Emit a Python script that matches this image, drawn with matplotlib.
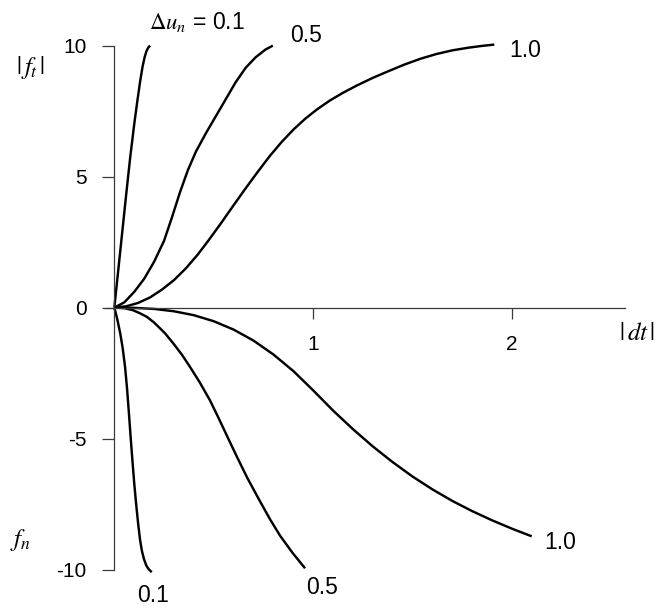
import matplotlib
matplotlib.use("Agg")
import matplotlib.pyplot as plt

plt.rcParams['font.family'] = ['Liberation Sans', 'DejaVu Sans']
plt.rcParams['mathtext.fontset'] = 'stix'

# upper half: |f_t| against |dt|, one curve per du_n
ft_01_x = [0, 0.02, 0.04, 0.06, 0.08, 0.10, 0.115, 0.13, 0.142, 0.152, 0.162, 0.171, 0.18]
ft_01_y = [0, 1.45, 2.9, 4.35, 5.75, 7.0, 7.85, 8.65, 9.2, 9.55, 9.8, 9.93, 10.0]

ft_05_x = [0, 0.05, 0.1, 0.15, 0.2, 0.25, 0.29, 0.33, 0.37, 0.41, 0.46, 0.51, 0.56,
           0.61, 0.66, 0.71, 0.76, 0.797]
ft_05_y = [0, 0.2, 0.6, 1.1, 1.75, 2.55, 3.45, 4.4, 5.25, 5.95, 6.65, 7.3, 7.95,
           8.6, 9.15, 9.55, 9.85, 10.0]

ft_10_x = [0, 0.06, 0.12, 0.18, 0.24, 0.3, 0.36, 0.42, 0.48, 0.54, 0.6, 0.66, 0.72,
           0.78, 0.84, 0.9, 0.96, 1.02, 1.085, 1.15, 1.22, 1.3, 1.38, 1.46, 1.54,
           1.62, 1.7, 1.78, 1.85, 1.911]
ft_10_y = [0, 0.05, 0.18, 0.39, 0.69, 1.05, 1.5, 2.03, 2.63, 3.26, 3.91, 4.55, 5.17,
           5.77, 6.31, 6.79, 7.21, 7.57, 7.91, 8.2, 8.48, 8.77, 9.03, 9.28, 9.5,
           9.68, 9.82, 9.92, 9.99, 10.04]

# lower half: f_n against |dt|
fn_01_x = [0, 0.015, 0.03, 0.042, 0.054, 0.064, 0.073, 0.082, 0.091, 0.1, 0.109,
           0.119, 0.129, 0.139, 0.149, 0.16, 0.172, 0.188]
fn_01_y = [0, -0.45, -1.0, -1.55, -2.27, -3.1, -4.0, -4.95, -5.85, -6.7, -7.45,
           -8.2, -8.85, -9.3, -9.6, -9.83, -9.98, -10.1]

fn_05_x = [0, 0.05, 0.094, 0.13, 0.163, 0.2, 0.255, 0.3, 0.34, 0.381, 0.43, 0.481,
           0.527, 0.573, 0.62, 0.67, 0.733, 0.783, 0.833, 0.895, 0.959]
fn_05_y = [0, -0.02, -0.1, -0.22, -0.35, -0.57, -0.98, -1.4, -1.8, -2.27, -2.86, -3.54,
           -4.26, -5.0, -5.75, -6.52, -7.4, -8.08, -8.7, -9.35, -9.95]

fn_10_x = [0, 0.1, 0.2, 0.3, 0.4, 0.5, 0.6, 0.7, 0.8, 0.9, 1.0, 1.1, 1.2, 1.3, 1.4,
           1.5, 1.6, 1.7, 1.8, 1.9, 2.0, 2.099]
fn_10_y = [0, -0.01, -0.05, -0.14, -0.29, -0.52, -0.84, -1.26, -1.79, -2.42, -3.16,
           -3.93, -4.64, -5.3, -5.9, -6.45, -6.94, -7.38, -7.77, -8.12, -8.44, -8.73]

curves = [(ft_01_x, ft_01_y), (ft_05_x, ft_05_y), (ft_10_x, ft_10_y),
          (fn_01_x, fn_01_y), (fn_05_x, fn_05_y), (fn_10_x, fn_10_y)]

# curve labels (text, x, y)
curve_labels = [
    ('$\\Delta u_n$ = 0.1', 0.416, 10.9),
    ('0.5', 0.964, 10.4),
    ('1.0', 2.065, 9.83),
    ('0.1', 0.195, -11.0),
    ('0.5', 1.045, -10.7),
    ('1.0', 2.242, -8.98),
]

x_ticks = [1, 2]
y_ticks = [-10, -5, 0, 5, 10]

fig = plt.figure(figsize=(6.62, 6.09), dpi=100)
ax = fig.add_axes([0.1547, 0.0432, 0.799, 0.9034])
ax.set_xlim(-0.06, 2.6)
ax.set_ylim(-10.5, 10.5)

for cx, cy in curves:
    ax.plot(cx, cy, color='black', lw=1.75, solid_capstyle='butt',
            solid_joinstyle='round')

axis_col = '#3a3a3a'
ax.spines['top'].set_visible(False)
ax.spines['right'].set_visible(False)
ax.spines['left'].set_position(('data', 0))
ax.spines['bottom'].set_position(('data', 0))
ax.spines['left'].set_bounds(-10, 10)
ax.spines['bottom'].set_bounds(-0.045, 2.57)
for s in ('left', 'bottom'):
    ax.spines[s].set_color(axis_col)
    ax.spines[s].set_linewidth(0.9)

ax.set_xticks(x_ticks)
ax.set_yticks(y_ticks)
ax.set_yticklabels([str(t) for t in y_ticks])
ax.tick_params(axis='x', direction='out', length=8, width=0.9, color=axis_col,
               pad=12, labelsize=15)
ax.tick_params(axis='y', direction='out', length=9, width=0.9, color=axis_col,
               pad=11, labelsize=15)

for txt, tx, ty in curve_labels:
    ax.text(tx, ty, txt, fontsize=16.5, ha='center', va='center')

ax.text(2.628, -0.97, '$|\\,dt\\,|$', fontsize=18, ha='center', va='center')
ax.text(-0.419, 9.18, '$|\\,f_t\\,|$', fontsize=18, ha='center', va='center')
ax.text(-0.474, -8.87, '$f_n$', fontsize=18, ha='center', va='center')

fig.savefig('out.png', dpi=100)
